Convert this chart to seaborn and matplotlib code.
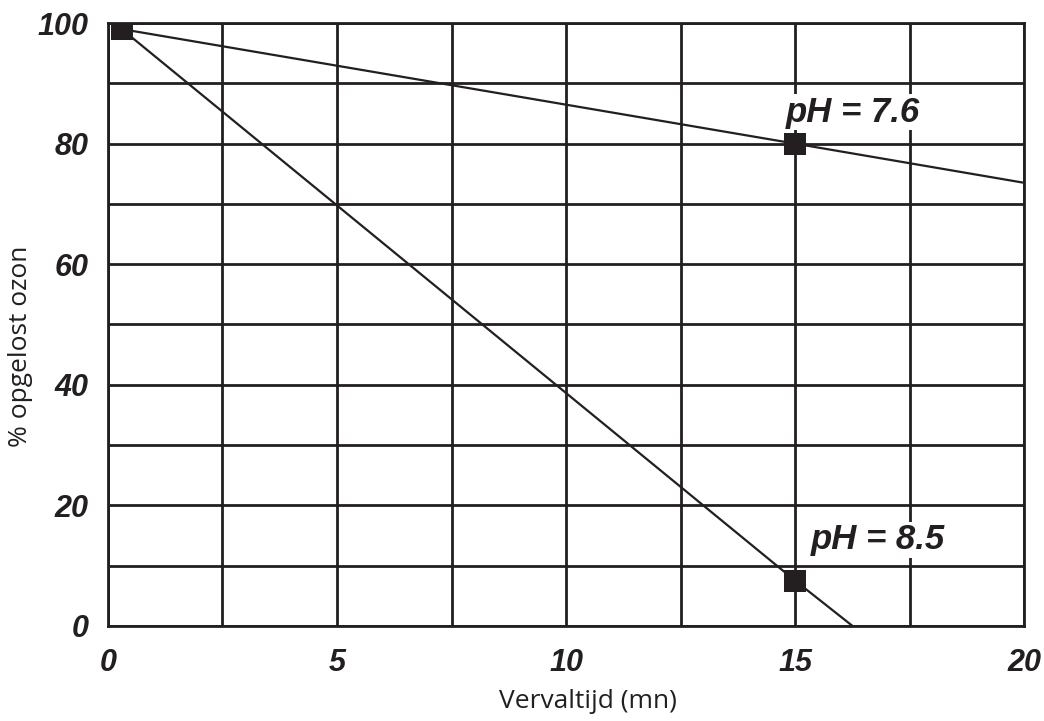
import matplotlib
matplotlib.use("Agg")
import matplotlib.pyplot as plt
import seaborn as sns
import pandas as pd
import numpy as np

# Data
ph76_time = [0.3, 15, 20]
ph76_ozon = [99, 80, 73.5]
ph85_time = [0.3, 15, 16.25]
ph85_ozon = [99, 7.5, 0]
marker_time = [0.3, 15, 15]
marker_ozon = [99, 80, 7.5]
x_ticks = [0, 5, 10, 15, 20]
y_ticks = [0, 20, 40, 60, 80, 100]
labels = ["pH = 7.6", "pH = 8.5"]

INK = "#231f20"
sns.set_theme(style="white")
plt.rcParams['font.family'] = ['Liberation Sans', 'DejaVu Sans']

fig = plt.figure(figsize=(10.44, 7.21), dpi=100)
ax = fig.add_axes([0.1034, 0.132, 0.8776, 0.836])

df76 = pd.DataFrame({"t": ph76_time, "o": ph76_ozon})
df85 = pd.DataFrame({"t": ph85_time, "o": ph85_ozon})
sns.lineplot(data=df76, x="t", y="o", ax=ax, color=INK, lw=1.6, zorder=3)
sns.lineplot(data=df85, x="t", y="o", ax=ax, color=INK, lw=1.6, zorder=3)
dfm = pd.DataFrame({"t": marker_time, "o": marker_ozon})
sns.scatterplot(data=dfm, x="t", y="o", ax=ax, marker="s", s=240, color=INK,
                edgecolor=INK, linewidth=0, zorder=4)

ax.set_xlim(0, 20)
ax.set_ylim(0, 100)
ax.set_xticks(x_ticks)
ax.set_yticks(y_ticks)
ax.set_xticks(np.arange(0, 20.01, 2.5), minor=True)
ax.set_yticks(np.arange(0, 100.01, 10), minor=True)
ax.grid(True, which="both", color=INK, lw=2.0)
ax.set_axisbelow(True)
for s in ax.spines.values():
    s.set_color(INK)
    s.set_linewidth(2.0)
ax.tick_params(which="both", length=0)
ax.tick_params(axis="x", pad=16)
ax.tick_params(axis="y", pad=14)
for lab in ax.get_xticklabels() + ax.get_yticklabels():
    lab.set_fontsize(22)
    lab.set_fontweight("bold")
    lab.set_fontstyle("italic")
    lab.set_color(INK)

ax.set_xlabel("Vervaltijd (mn)", fontsize=19, family=["Open Sans", "DejaVu Sans"], color=INK)
ax.set_ylabel("% opgelost ozon", fontsize=19, family=["Open Sans", "DejaVu Sans"], color=INK)
ax.xaxis.set_label_coords(0.524, -0.104)
ax.yaxis.set_label_coords(-0.082, 0.463)

ax.text(16.27, 85.2, labels[0], fontsize=25, fontweight="bold", fontstyle="italic", color=INK,
        ha="center", va="center", zorder=5,
        bbox=dict(facecolor="white", edgecolor="none", pad=1))
ax.text(16.8, 14.3, labels[1], fontsize=25, fontweight="bold", fontstyle="italic", color=INK,
        ha="center", va="center", zorder=5,
        bbox=dict(facecolor="white", edgecolor="none", pad=1))

fig.savefig("out.png", dpi=100)
